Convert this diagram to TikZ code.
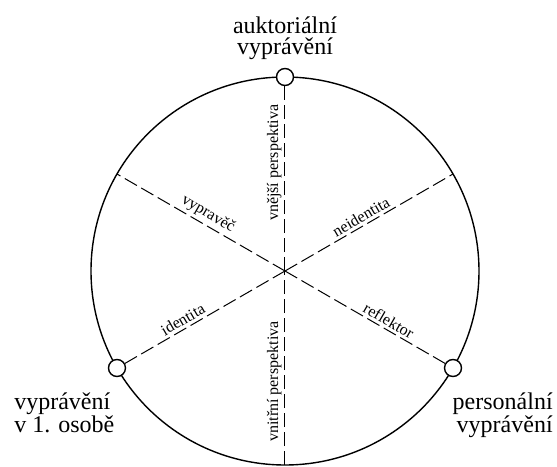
\documentclass[tikz,border=0pt]{standalone}
\usepackage{fontspec}
\setmainfont{Liberation Serif}
\usepackage{tikz}
\usetikzlibrary{positioning}

\begin{document}
\begin{tikzpicture}[
    x=1pt, y=1pt,
    knot/.style={circle, draw, fill=white, line width=1.4pt,
                 minimum size=17pt, inner sep=0pt},
    axis/.style={line width=1pt, dash pattern=on 14pt off 5pt},
    lab/.style={font=\fontsize{16}{16}\selectfont, sloped, above, inner sep=3pt},
    mode/.style={font=\fontsize{24}{21}\selectfont, inner sep=1pt}
]
\useasboundingbox (-285,-195) rectangle (272,271);
\coordinate (c) at (0,0);
\coordinate (vyp) at (150:194);
\coordinate (nei) at (30:194);
\coordinate (bot) at (270:194);

\draw[line width=1.4pt] (c) circle (194);
\node[knot] (auk) at (90:194) {};
\node[knot] (ich) at (210:194) {};
\node[knot] (pers) at (330:194) {};

\node[mode, align=center, above=7pt of auk] (auktxt) {auktoriální\\vyprávění};
\node[mode, align=left, below left=17pt and -5pt of ich] (ichtxt) {vyprávění\\v 1. osobě};
\node[mode, align=right, below right=17pt and -8pt of pers] (perstxt) {personální\\vyprávění};

% axes through the centre
\draw[axis] (c) -- node[lab, pos=0.585] {vnější perspektiva} (auk);
\draw[axis] (bot) -- node[lab, pos=0.43] {vnitřní perspektiva} (c);
\draw[axis] (c) -- node[lab, pos=0.49] {vypravěč} (vyp);
\draw[axis] (c) -- node[lab, pos=0.48] {neidentita} (nei);
\draw[axis] (c) -- node[lab, pos=0.61] {identita} (ich);
\draw[axis] (c) -- node[lab, pos=0.62] {reflektor} (pers);
\end{tikzpicture}
\end{document}
